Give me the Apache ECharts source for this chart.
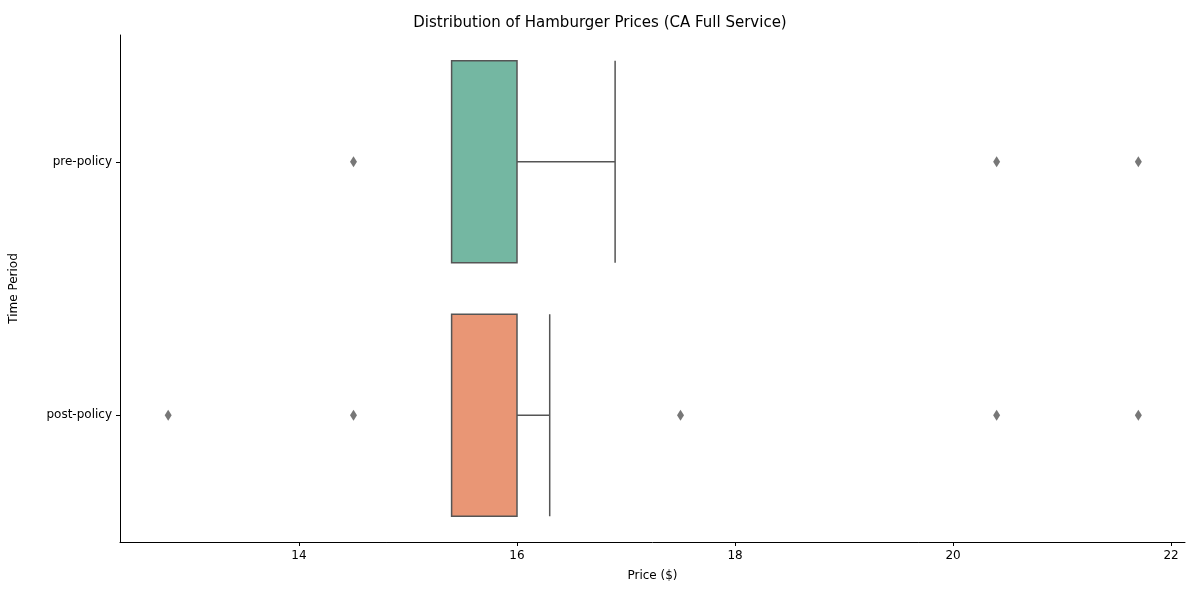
<!DOCTYPE html>
<html>
<head>
<meta charset="utf-8">
<script src="https://cdn.jsdelivr.net/npm/echarts@6/dist/echarts.min.js"></script>
<style>html,body{margin:0;padding:0;background:#fff}#chart{width:1200px;height:600px}</style>
</head>
<body>
<div id="chart"></div>
<script>
var periods = ['pre-policy', 'post-policy'];
// [lower whisker, Q1, median, Q3, upper whisker]
var boxStats = [
  [15.4, 15.4, 16.0, 16.0, 16.9],
  [15.4, 15.4, 16.0, 16.0, 16.3]
];
var boxColors = ['#74b7a2', '#e99675'];
var preOutliers = [14.5, 20.4, 21.7];
var postOutliers = [12.8, 14.5, 17.5, 20.4, 21.7];
var tickValues = [14, 16, 18, 20, 22];

var font = 'DejaVu Sans';
var chart = echarts.init(document.getElementById('chart'));

var boxData = boxStats.map(function (s, i) {
  return { value: s, itemStyle: { color: boxColors[i], borderColor: '#555555', borderWidth: 1.5 } };
});
var outlierData = [];
preOutliers.forEach(function (v) { outlierData.push([v, periods[0]]); });
postOutliers.forEach(function (v) { outlierData.push([v, periods[1]]); });

chart.setOption({
  animation: false,
  title: {
    text: 'Distribution of Hamburger Prices (CA Full Service)',
    left: 'center', top: 11,
    textStyle: { fontFamily: font, fontSize: 15, fontWeight: 'normal', color: '#000' }
  },
  grid: { left: 120, right: 15, top: 35, bottom: 58 },
  xAxis: {
    type: 'value', min: 12.358, max: 22.128,
    name: 'Price ($)', nameLocation: 'middle', nameGap: 28,
    nameTextStyle: { fontFamily: font, fontSize: 12, color: '#000' },
    splitLine: { show: false },
    axisLine: { show: true, lineStyle: { color: '#000' } },
    axisTick: { show: true, customValues: tickValues, length: 4, lineStyle: { color: '#000' } },
    axisLabel: { customValues: tickValues, fontFamily: font, fontSize: 12, color: '#000', margin: 8 }
  },
  yAxis: {
    type: 'category', data: periods, inverse: true,
    name: 'Time Period', nameLocation: 'middle', nameGap: 100, nameRotate: 90,
    nameTextStyle: { fontFamily: font, fontSize: 12, color: '#000' },
    axisLine: { show: true, lineStyle: { color: '#000' } },
    axisTick: { show: true, alignWithLabel: true, length: 4, lineStyle: { color: '#000' } },
    axisLabel: { fontFamily: font, fontSize: 12, color: '#000', margin: 8 }
  },
  series: [
    {
      type: 'boxplot', layout: 'horizontal',
      boxWidth: [202, 202],
      data: boxData
    },
    {
      type: 'scatter', data: outlierData,
      symbol: 'diamond', symbolSize: [7, 11],
      itemStyle: { color: '#555555' }
    }
  ]
});
</script>
</body>
</html>
